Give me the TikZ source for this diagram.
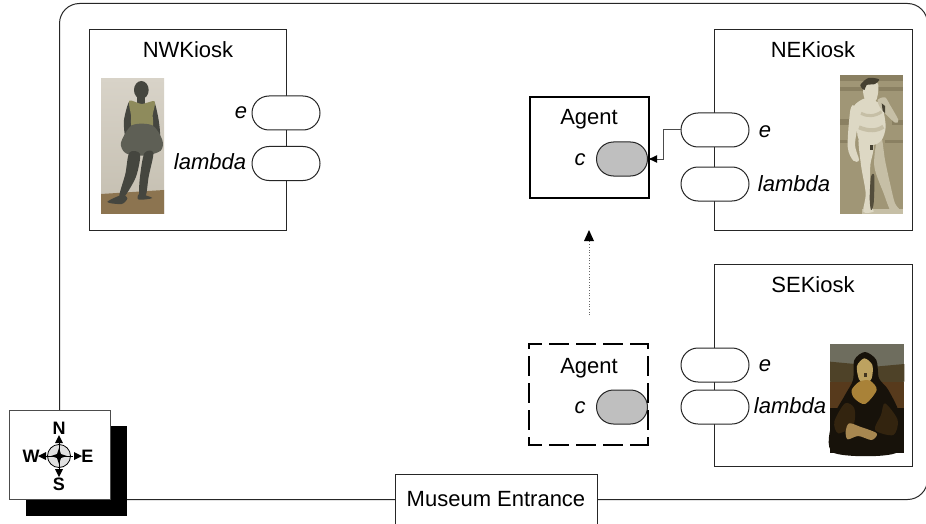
\documentclass[tikz,border=0pt]{standalone}
\usepackage{fontspec}
\setmainfont{Liberation Sans}
\usetikzlibrary{arrows.meta,shapes.misc,calc}
\definecolor{cgray}{HTML}{BFBFBF}
\definecolor{marble}{HTML}{DDD8C4}
\definecolor{marbled}{HTML}{C6BFA6}
\definecolor{khaki}{HTML}{A09676}
\definecolor{khakid}{HTML}{8A8062}
\definecolor{bronze}{HTML}{45463F}
\definecolor{tutu}{HTML}{5E5F55}
\definecolor{bodice}{HTML}{8E8B5C}
\definecolor{plinth}{HTML}{8C7450}
\definecolor{dancerbgt}{HTML}{D8D3C8}
\definecolor{dancerbgb}{HTML}{C4BEB0}
\definecolor{monasky}{HTML}{6E6D5E}
\definecolor{monaland}{HTML}{4E4228}
\definecolor{monared}{HTML}{573A1C}
\definecolor{monadark}{HTML}{17120A}
\definecolor{monasleeve}{HTML}{33240F}
\definecolor{monaface}{HTML}{BDA260}
\definecolor{monachest}{HTML}{A98238}
\definecolor{monahand}{HTML}{A78750}
\tikzset{
  thinline/.style={draw=black!85,line width=1pt},
  boxnode/.style={thinline,fill=white,rectangle,inner sep=0pt,anchor=north west},
  kiosk/.style={boxnode},
  port/.style={rounded rectangle,thinline,fill=white,minimum width=68pt,minimum height=34pt,inner sep=0pt},
  cport/.style={rounded rectangle,thinline,fill=cgray,minimum width=51pt,minimum height=34pt,inner sep=0pt},
  title/.style={anchor=base,font=\fontsize{22}{24}\selectfont,inner sep=0pt},
  lab/.style={anchor=base,font=\fontsize{22}{24}\itshape\selectfont,inner sep=0pt},
  compasslab/.style={anchor=base,font=\fontsize{18}{20}\bfseries\selectfont,inner sep=0pt},
  tip/.style={-{Latex[length=9pt,width=8pt,color=black]}},
  dashedge/.style={draw=black,line width=2pt,line cap=rect,dash pattern=on 18pt off 9pt,dash phase=#1},
  smallphoto/.style={shift={(#1)},scale=0.33333}
}
\begin{document}
\begin{tikzpicture}[x=1pt,y=-1pt]
\useasboundingbox (0,0) rectangle (926,524);
\fill[white] (0,0) rectangle (926,524);
% room
\node[thinline,rounded corners=20pt,rectangle,anchor=north west,inner sep=0pt,minimum width=868pt,minimum height=496pt] (room) at (59,3) {};
% kiosks
\node[kiosk,minimum width=197pt,minimum height=201pt] (nw) at (89,29) {};
\node[kiosk,minimum width=198pt,minimum height=201pt] (ne) at (714,29) {};
\node[kiosk,minimum width=198pt,minimum height=202pt] (se) at (714,264) {};
\node[title] (nwt) at (188,57.5) {NWKiosk};
\node[title] (net) at (813,57.5) {NEKiosk};
\node[title] (set) at (813,292) {SEKiosk};
% Degas dancer
\begin{scope}[smallphoto={80,20}]
\shade[top color=dancerbgt,bottom color=dancerbgb] (63,175) rectangle (252,582);
\fill[plinth] (63,522) -- (252,510) -- (252,582) -- (63,582) -- cycle;
\fill[bronze] (184,210) ellipse (22 and 27);
\fill[bronze] (172,232) rectangle (196,255);
\fill[bronze] plot[smooth cycle] coordinates {(148,245) (132,300) (136,350) (152,345) (158,300)};
\fill[bronze] plot[smooth cycle] coordinates {(222,245) (236,300) (240,350) (225,345) (212,300)};
\fill[bodice] plot[smooth cycle] coordinates {(148,242) (185,252) (224,244) (218,285) (216,322) (158,322) (153,285)};
\fill[tutu] plot[smooth cycle] coordinates {(156,316) (217,316) (247,360) (242,392) (195,407) (138,400) (123,368)};
\fill[bronze] plot[smooth cycle] coordinates {(148,398) (180,402) (168,470) (132,532) (118,526) (136,462)};
\fill[bronze] plot[smooth cycle] coordinates {(193,400) (220,398) (206,470) (197,528) (178,525) (180,470)};
\fill[bronze] plot[smooth cycle] coordinates {(125,525) (82,546) (125,552) (142,535)};
\fill[bronze] plot[smooth cycle] coordinates {(178,522) (217,534) (176,539)};
\end{scope}
% David
\begin{scope}[smallphoto={835,70}]
\fill[khaki] (15,15) rectangle (205,432);
\fill[khakid] (15,15) rectangle (205,32);
\fill[khakid] (15,52) rectangle (205,62);
\fill[khakid] (15,148) rectangle (45,165);
\fill[khakid] (170,150) rectangle (205,165);
\fill[khakid] (15,210) rectangle (45,220);
\fill[khakid] (150,210) rectangle (205,220);
\fill[marbled] (80,418) rectangle (205,432);
% legs
\fill[marbled] plot[smooth cycle] coordinates {(125,215) (140,205) (150,270) (165,340) (180,400) (198,425) (170,428) (146,370) (118,290)};
\fill[marble] plot[smooth cycle] coordinates {(72,200) (115,225) (106,285) (106,345) (110,408) (116,425) (85,425) (92,370) (78,285)};
\fill[khakid!60!black] plot[smooth cycle] coordinates {(108,320) (118,318) (116,400) (108,420) (104,385)};
% torso
\fill[marble] plot[smooth cycle] coordinates {(90,85) (125,95) (142,110) (152,170) (140,210) (112,225) (70,205) (66,155) (56,110)};
% arms
\fill[marble] plot[smooth cycle] coordinates {(60,108) (46,120) (38,230) (55,272) (72,270) (60,225) (68,160)};
\fill[marbled] plot[smooth cycle] coordinates {(128,90) (150,82) (165,105) (190,150) (180,158) (150,130) (135,112)};
% head and hair
\fill[marble] plot[smooth cycle] coordinates {(90,40) (128,40) (128,75) (120,95) (92,92) (84,62)};
\fill[khakid!50!black] plot[smooth cycle] coordinates {(76,45) (100,24) (132,28) (120,42) (95,45) (88,60)};
% modelling
\draw[marbled,line width=4pt] (72,172) .. controls (100,184) and (125,184) .. (145,170);
\draw[marbled,line width=3pt] (78,130) .. controls (95,140) and (120,140) .. (140,125);
\fill[khakid!50!black] (105,225) rectangle (113,240);
\fill[khakid!50!black] (140,100) -- (150,108) -- (150,130) -- (143,122) -- cycle;
\end{scope}
% Mona Lisa
\begin{scope}[smallphoto={825,340}]
\fill[monasky] (15,12) rectangle (238,338);
\fill[monaland] (15,65) -- (90,72) -- (90,130) -- (15,125) -- cycle;
\fill[monaland] (150,80) -- (238,72) -- (238,125) -- (150,130) -- cycle;
\fill[monared] (15,125) rectangle (85,215);
\fill[monared] (160,125) rectangle (238,205);
\fill[monadark] (15,205) rectangle (238,338);
\fill[monadark] plot[smooth cycle] coordinates {(120,36) (154,60) (162,115) (190,150) (225,230) (215,338) (25,338) (22,240) (60,165) (84,120) (88,60)};
\fill[monaface] plot[smooth cycle] coordinates {(118,55) (142,75) (140,115) (120,132) (102,118) (96,78)};
\fill[monachest] plot[smooth cycle] coordinates {(103,125) (135,122) (155,150) (120,192) (88,175) (80,150)};
\fill[monasleeve] plot[smooth cycle] coordinates {(60,190) (28,245) (40,280) (85,255) (88,205)};
\fill[monasleeve] plot[smooth cycle] coordinates {(180,190) (218,240) (205,285) (150,270) (168,225)};
\fill[monahand] plot[smooth cycle] coordinates {(72,250) (105,260) (155,280) (140,300) (100,288) (68,298) (62,275)};
\fill[black!60!monahand] (118,100) rectangle (126,110);
\end{scope}
% NW ports
\node[port] (nwe) at (286,113) {};
\node[port] (nwl) at (286,163.5) {};
\node[lab] (nwel) at (241,119) {e};
\node[lab] (nwll) at (210,169) {lambda};
% NE ports
\node[port] (nee) at (715,130) {};
\node[port] (nel) at (715,184) {};
\node[lab] (neel) at (765,138) {e};
\node[lab] (nell) at (794,191) {lambda};
% SE ports
\node[port] (see) at (715,365) {};
\node[port] (sel) at (715,407) {};
\node[lab] (seel) at (765,371.5) {e};
\node[lab] (sell) at (790,413) {lambda};
% Agent solid
\node[boxnode,line width=2pt,draw=black,minimum width=119pt,minimum height=101pt] (agent) at (529,96) {};
\node[title] (agentt) at (589,124.5) {Agent};
\node[cport] (ac) at (622,159) {};
\node[lab] (acl) at (580,165) {c};
% Agent dashed
\node[rectangle,inner sep=0pt,anchor=north west,minimum width=119pt,minimum height=101pt] (ghost) at (529,344) {};
\node[title] (ghostt) at (589,373) {Agent};
\node[cport] (gc) at (622,407) {};
\node[lab] (gcl) at (580,413) {c};
\draw[dashedge=6pt] (ghost.north west) -- (ghost.north east);
\draw[dashedge=6pt] (ghost.south west) -- (ghost.south east);
\draw[dashedge=14pt] (ghost.north west) -- (ghost.south west);
\draw[dashedge=14pt] (ghost.north east) -- (ghost.south east);
% connectors
\draw[thinline,draw=black!70,tip] (nee.west) -- ++(-17,0) |- (ac.east);
\coordinate (movefrom) at (589,315);
\coordinate (moveto) at (589,230);
\draw[black!60,line width=0.7pt,dotted] (movefrom) -- ($(moveto)+(0,10)$);
\fill[black] (moveto) -- ++(-5,11) -- ++(10,0) -- cycle;
% entrance
\node[boxnode,minimum width=202pt,minimum height=60pt] (entrance) at (395,474) {};
\node[anchor=base,inner sep=0pt,font=\fontsize{22}{24}\selectfont] (entrancet) at (496,506) {Museum Entrance};
% compass
\node[rectangle,fill=black,inner sep=0pt,anchor=north west,minimum width=101pt,minimum height=90pt] (shadow) at (26,426) {};
\node[boxnode,draw=black!70,minimum width=101pt,minimum height=89pt] (compassbox) at (9,410) {};
\coordinate (cc) at (59,456);
\draw[black,line width=0.8pt,fill=black!12] (cc) circle (11.5);
\draw[black,line width=0.8pt] ($(cc)+(-14,0)$) -- ($(cc)+(14,0)$);
\draw[black,line width=0.8pt] ($(cc)+(0,-14)$) -- ($(cc)+(0,14)$);
\fill[black] ($(cc)+(0,-8)$) -- ($(cc)+(2,-2)$) -- ($(cc)+(8,0)$) -- ($(cc)+(2,2)$) -- ($(cc)+(0,8)$) -- ($(cc)+(-2,2)$) -- ($(cc)+(-8,0)$) -- ($(cc)+(-2,-2)$) -- cycle;
\fill[black] ($(cc)+(0,-21)$) -- ++(-4,8) -- ++(8,0) -- cycle;
\fill[black] ($(cc)+(0,21)$) -- ++(-4,-8) -- ++(8,0) -- cycle;
\fill[black] ($(cc)+(-21,0)$) -- ++(8,-4) -- ++(0,8) -- cycle;
\fill[black] ($(cc)+(23,0)$) -- ++(-8,-4) -- ++(0,8) -- cycle;
\node[compasslab] (cn) at (59,434) {N};
\node[compasslab] (cs) at (59,490) {S};
\node[compasslab] (cw) at (31,462) {W};
\node[compasslab] (ce) at (87.5,462) {E};
\end{tikzpicture}
\end{document}
